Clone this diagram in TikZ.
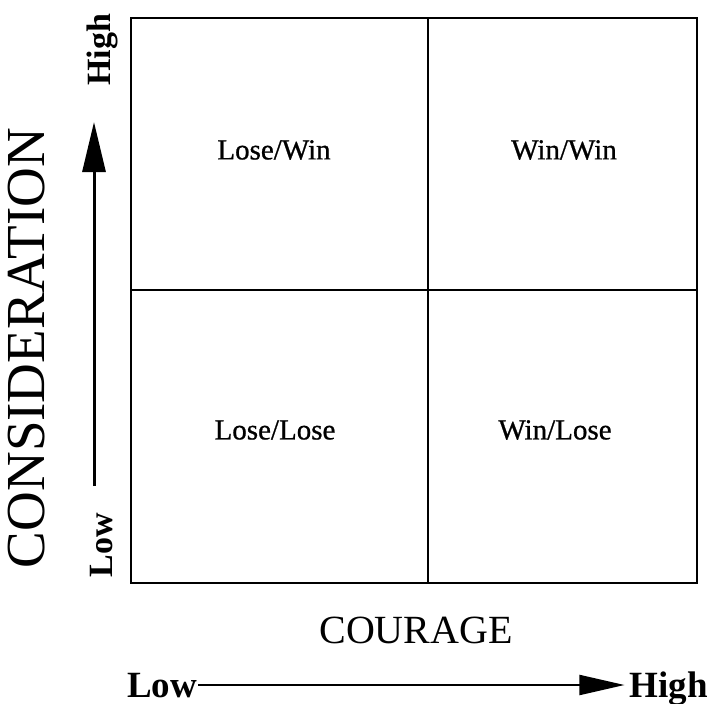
\documentclass[tikz,border=0pt]{standalone}
\usepackage{fontspec}
\setmainfont{Liberation Serif}
\newfontfamily\quadfont[FakeBold=0.8]{Liberation Serif}
\usetikzlibrary{arrows.meta}
\begin{document}
\begin{tikzpicture}[x=1pt,y=-1pt,
  quad/.style={font=\quadfont\fontsize{29}{30}\selectfont, inner sep=0pt},
  axlab/.style={font=\bfseries\fontsize{37}{38}\selectfont, inner sep=0pt},
  big/.style={inner sep=0pt},
  gridline/.style={line width=2.4pt}]
\useasboundingbox (0,0) rectangle (710,704);
\fill[white] (0,0) rectangle (710,704);
% grid
\draw[gridline] (131,18) rectangle (697,583);
\coordinate (vt) at (428,18);
\coordinate (vb) at (428,583);
\coordinate (hl) at (131,290);
\coordinate (hr) at (697,290);
\draw[gridline] (vt) -- (vb);
\draw[gridline] (hl) -- (hr);
% quadrant labels
\node[quad] (lw) at (274,150) {Lose/Win};
\node[quad] (ww) at (564,150) {Win/Win};
\node[quad] (ll) at (275,430) {Lose/Lose};
\node[quad] (wl) at (555,430) {Win/Lose};
% vertical axis
\node[big, rotate=90, font=\fontsize{55}{56}\selectfont] (cons) at (27,348) {CONSIDERATION};
\node[axlab, rotate=90, font=\bfseries\fontsize{34}{35}\selectfont] (vhigh) at (102,50) {High};
\node[axlab, rotate=90, font=\bfseries\fontsize{34}{35}\selectfont] (vlow) at (102,545) {Low};
\coordinate (va) at (94,486);
\coordinate (vz) at (94,122);
\draw[line width=3pt, -{Triangle[length=50pt,width=23pt]}] (va) -- (vz);
% horizontal axis
\node[big, font=\fontsize{40}{41}\selectfont] (cour) at (416,630) {COURAGE};
\node[axlab, anchor=base west] (hlow) at (127,697) {Low};
\node[axlab, anchor=base east] (hhigh) at (708,697) {High};
\coordinate (ha) at ([xshift=1pt,yshift=12pt]hlow.base east);
\coordinate (hz) at ([xshift=-5pt,yshift=12pt]hhigh.base west);
\draw[line width=2pt, -{Triangle[length=45pt,width=20pt]}] (ha) -- (hz);
\end{tikzpicture}
\end{document}
